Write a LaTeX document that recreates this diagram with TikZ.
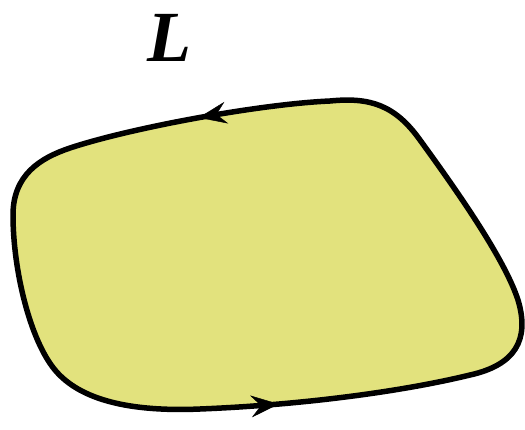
\documentclass[tikz,border=0pt]{standalone}
\usepackage{fontspec}
\setmainfont{Liberation Serif}
\usetikzlibrary{arrows.meta,decorations.markings}
\definecolor{blobfill}{RGB}{226,226,125}
\tikzset{
  outline/.style={line width=5.5pt, line join=round},
  tipmark/.style={decoration={markings, mark=at position #1 with {\arrow{Stealth[length=28pt,width=22pt,inset=10pt]}}}, postaction={decorate}}
}
\begin{document}
\begin{tikzpicture}[x=1pt,y=-1pt]
\useasboundingbox (0,0) rectangle (525,429);
\path[fill=blobfill, draw=black, outline]
  (330,101) .. controls (260,104) and (130,128) .. (70,148)
  .. controls (40,158) and (13,175) .. (13,215)
  .. controls (13,270) and (30,340) .. (55,370)
  .. controls (80,400) and (130,412) .. (200,409)
  .. controls (300,405) and (400,392) .. (470,375)
  .. controls (515,365) and (530,340) .. (518,300)
  .. controls (505,260) and (460,195) .. (420,140)
  .. controls (395,105) and (370,97) .. (330,101) -- cycle;
\path[tipmark=0.5] (330,101) .. controls (260,104) and (130,128) .. (70,148);
\path[tipmark=0.29] (200,409) .. controls (300,405) and (400,392) .. (470,375);
\node (L) at (169,38) {\fontsize{72}{78}\selectfont\bfseries\itshape L};
\end{tikzpicture}
\end{document}
